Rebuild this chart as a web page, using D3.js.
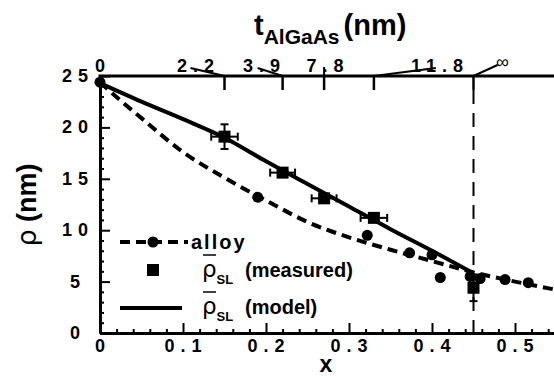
<!DOCTYPE html>
<html>
<head>
<meta charset="utf-8">
<script src="https://cdn.jsdelivr.net/npm/d3@7"></script>
<style>
  body { margin: 0; background: #fff; }
  text { font-family: "Liberation Sans", Arial, sans-serif; font-weight: bold; fill: #000; }
</style>
</head>
<body>
<div id="plot"></div>
<script>

// bottom axis (Al fraction x)
var xMajor = [0, 0.1, 0.2, 0.3, 0.4, 0.5];
var xMajorLabels = ["0", "0.1", "0.2", "0.3", "0.4", "0.5"];

// left axis (rho, nm)
var yMajor = [0, 5, 10, 15, 20, 25];
var yMajorLabels = ["0", "5", "10", "15", "20", "25"];

// top axis: t_AlGaAs at given x
var topTickX = [0, 0.15, 0.22, 0.27, 0.33, 0.45];
var topTickLabels = ["0", "2.2", "3.9", "7.8", "11.8", "\u221e"];

// alloy curve (dashed) and its dots
var alloyLineX = [0, 0.025, 0.05, 0.1, 0.15, 0.2, 0.25, 0.3, 0.35, 0.4, 0.45, 0.5, 0.55];
var alloyLineY = [24.4, 22.6, 20.9, 17.6, 15.1, 12.9, 10.8, 9.3, 8.1, 7.0, 5.9, 5.0, 4.2];
var alloyDotX = [0, 0.19, 0.322, 0.373, 0.40, 0.41, 0.446, 0.458, 0.488, 0.516];
var alloyDotY = [24.4, 13.2, 9.5, 7.8, 7.6, 5.4, 5.5, 5.3, 5.2, 4.9];

// superlattice, measured
var measX = [0.15, 0.22, 0.27, 0.33, 0.45];
var measY = [19.1, 15.6, 13.1, 11.2, 4.4];
var measXErr = [0.016, 0.015, 0.015, 0.016, 0];
var measYErr = [1.2, 0.2, 0.3, 0.3, 1.3];

// superlattice, model
var modelX = [0, 0.05, 0.1, 0.15, 0.2, 0.25, 0.3, 0.35, 0.4, 0.45];
var modelY = [24.3, 22.5, 20.8, 19.0, 16.7, 14.5, 12.3, 10.1, 8.0, 5.8];

window.onload = function(){
    buildChart();
};

function buildChart(){

    var W = 554, H = 376;

    var svg = d3.select("#plot")
                .append("svg")
                .attr("width", W)
                .attr("height", H);

    var x = d3.scaleLinear().domain([0, 0.55]).range([100, 556.5]);
    var y = d3.scaleLinear().domain([0, 25]).range([333, 76]);

    // minor ticks
    var xMinor = d3.range(0, 0.56, 0.02).filter(v => Math.abs(v * 10 - Math.round(v * 10)) > 1e-6);
    var yMinor = d3.range(0, 26, 1).filter(v => v % 5 != 0);

    var bottom = svg.append("g").attr("transform", "translate(0," + y(0) + ")");
    bottom.call(d3.axisBottom(x).tickValues(xMajor).tickSizeInner(-10).tickSizeOuter(0).tickFormat(""));
    bottom.append("g").call(d3.axisBottom(x).tickValues(xMinor).tickSizeInner(-4).tickSizeOuter(0).tickFormat(""));

    var left = svg.append("g").attr("transform", "translate(" + x(0) + ",0)");
    left.call(d3.axisLeft(y).tickValues(yMajor).tickSizeInner(-10).tickSizeOuter(0).tickFormat(""));
    left.append("g").call(d3.axisLeft(y).tickValues(yMinor).tickSizeInner(-4).tickSizeOuter(0).tickFormat(""));

    svg.selectAll(".domain").attr("stroke", "#000").attr("stroke-width", 3);
    svg.selectAll(".tick line").attr("stroke", "#000").attr("stroke-width", 2);

    // top frame line
    svg.append("line")
       .attr("x1", x(0) - 1.5).attr("x2", W)
       .attr("y1", y(25)).attr("y2", y(25))
       .attr("stroke", "#000").attr("stroke-width", 3);

    // tick labels
    svg.append("g").selectAll("text")
       .data(xMajor)
       .enter().append("text")
       .attr("x", d => x(d) + 3)
       .attr("y", 352)
       .attr("text-anchor", "middle")
       .style("font-size", "18px")
       .style("letter-spacing", "6px")
       .text((d, i) => xMajorLabels[i]);

    svg.append("g").selectAll("text")
       .data(yMajor)
       .enter().append("text")
       .attr("x", d => d >= 10 ? 94 : 86)
       .attr("y", d => y(d) + 6)
       .attr("text-anchor", "end")
       .style("font-size", "18px")
       .style("letter-spacing", "6px")
       .text((d, i) => yMajorLabels[i]);

    // axis titles
    svg.append("text")
       .attr("x", 326).attr("y", 372)
       .attr("text-anchor", "middle")
       .style("font-size", "23px")
       .text("x");

    var yl = svg.append("text")
       .attr("transform", "translate(36,205) rotate(-90)")
       .attr("text-anchor", "middle")
       .style("font-size", "27px");
    yl.append("tspan").style("font-weight", "normal").style("font-family", "DejaVu Sans").text("\u03c1");
    yl.append("tspan").text(" (nm)");

    // top axis
    var topTicks = topTickX.map((v, i) => ({x: v, label: topTickLabels[i]}));
    var labelDx = [0, -29, -21, 1, 63, 26];
    var labelY  = [72, 72, 72, 72, 72, 68];
    var leadFrom = [null, [-34, -8], [-25, -8], [0, -9], [62, -8], [24, -11]];

    var top = svg.append("g");
    topTicks.forEach((t, i) => {
        var px = x(t.x);
        if (i > 0) {
            top.append("line")
               .attr("x1", px).attr("x2", px)
               .attr("y1", y(25)).attr("y2", y(25) + 14)
               .attr("stroke", "#000").attr("stroke-width", 2.5);
            top.append("line")
               .attr("x1", px).attr("y1", y(25))
               .attr("x2", px + leadFrom[i][0]).attr("y2", y(25) + leadFrom[i][1])
               .attr("stroke", "#000").attr("stroke-width", 2);
        }
        top.append("text")
           .attr("x", px + labelDx[i] + 3)
           .attr("y", labelY[i])
           .attr("text-anchor", "middle")
           .style("font-size", "18px")
           .style("font-weight", i == 5 ? "normal" : "bold")
           .style("letter-spacing", i == 5 ? "0px" : "6px")
           .text(t.label);
    });

    var tt = svg.append("text").attr("x", 254).attr("y", 35).style("font-size", "29px");
    tt.append("tspan").text("t");
    tt.append("tspan").attr("dy", 9).style("font-size", "21px").text("AlGaAs");
    tt.append("tspan").attr("dy", -9).attr("dx", 4).text("(nm)");

    // dashed vertical at x = 0.45
    svg.append("line")
       .attr("x1", x(0.45)).attr("x2", x(0.45))
       .attr("y1", y(25) + 14).attr("y2", y(0))
       .attr("stroke", "#000").attr("stroke-width", 2)
       .attr("stroke-dasharray", "14,9");

    // alloy dashed curve
    var alloyLine = alloyLineX.map((v, i) => [v, alloyLineY[i]]);
    svg.append("path")
       .datum(alloyLine)
       .attr("d", d3.line().x(d => x(d[0])).y(d => y(d[1])).curve(d3.curveMonotoneX))
       .attr("fill", "none")
       .attr("stroke", "#000")
       .attr("stroke-width", 4)
       .attr("stroke-dasharray", "10,6");

    svg.append("g").selectAll("circle")
       .data(alloyDotX.map((v, i) => [v, alloyDotY[i]]))
       .enter().append("circle")
       .attr("cx", d => x(d[0]))
       .attr("cy", d => y(d[1]))
       .attr("r", 5.5)
       .attr("fill", "#000");

    // model line
    var model = modelX.map((v, i) => [v, modelY[i]]);
    svg.append("path")
       .datum(model)
       .attr("d", d3.line().x(d => x(d[0])).y(d => y(d[1])).curve(d3.curveMonotoneX))
       .attr("fill", "none")
       .attr("stroke", "#000")
       .attr("stroke-width", 4);

    // measured with error bars
    var meas = measX.map((v, i) => ({x: v, y: measY[i], ex: measXErr[i], ey: measYErr[i]}));
    var eb = svg.append("g").attr("stroke", "#000").attr("stroke-width", 2);
    meas.forEach(d => {
        if (d.ex > 0) {
            eb.append("line").attr("x1", x(d.x - d.ex)).attr("x2", x(d.x + d.ex))
              .attr("y1", y(d.y)).attr("y2", y(d.y));
            eb.append("line").attr("x1", x(d.x - d.ex)).attr("x2", x(d.x - d.ex))
              .attr("y1", y(d.y) - 4).attr("y2", y(d.y) + 4);
            eb.append("line").attr("x1", x(d.x + d.ex)).attr("x2", x(d.x + d.ex))
              .attr("y1", y(d.y) - 4).attr("y2", y(d.y) + 4);
        }
        if (d.ey > 0) {
            eb.append("line").attr("x1", x(d.x)).attr("x2", x(d.x))
              .attr("y1", y(d.y - d.ey)).attr("y2", y(d.y + d.ey));
            eb.append("line").attr("x1", x(d.x) - 4).attr("x2", x(d.x) + 4)
              .attr("y1", y(d.y - d.ey)).attr("y2", y(d.y - d.ey));
            eb.append("line").attr("x1", x(d.x) - 4).attr("x2", x(d.x) + 4)
              .attr("y1", y(d.y + d.ey)).attr("y2", y(d.y + d.ey));
        }
    });
    svg.append("g").selectAll("rect")
       .data(meas)
       .enter().append("rect")
       .attr("x", d => x(d.x) - 6)
       .attr("y", d => y(d.y) - 6)
       .attr("width", 12).attr("height", 12)
       .attr("fill", "#000");

    // legend
    var lg = svg.append("g");
    lg.append("line").attr("x1", 120).attr("x2", 188).attr("y1", 242).attr("y2", 242)
      .attr("stroke", "#000").attr("stroke-width", 4).attr("stroke-dasharray", "10,6");
    lg.append("circle").attr("cx", 153).attr("cy", 242).attr("r", 5.5).attr("fill", "#000");
    lg.append("text").attr("x", 191).attr("y", 249).style("font-size", "20px")
      .style("letter-spacing", "2px").text("alloy");

    lg.append("rect").attr("x", 147).attr("y", 264).attr("width", 12).attr("height", 12).attr("fill", "#000");
    lg.append("line").attr("x1", 120).attr("x2", 182).attr("y1", 308).attr("y2", 308)
      .attr("stroke", "#000").attr("stroke-width", 4);

    [["(measured)", 277], ["(model)", 314]].forEach(r => {
        var t = lg.append("text").attr("x", 202).attr("y", r[1]).style("font-size", "20px");
        t.append("tspan").style("font-weight", "normal").style("font-family", "DejaVu Sans")
         .style("font-size", "23px").text("\u03c1");
        t.append("tspan").attr("dy", 7).style("font-size", "13px").text("SL");
        t.append("tspan").attr("dy", -7).attr("x", 245).text(r[0]);
        lg.append("line").attr("x1", 203).attr("x2", 216)
          .attr("y1", r[1] - 22).attr("y2", r[1] - 22)
          .attr("stroke", "#000").attr("stroke-width", 1.5);
    });
}
</script>
</body>
</html>
